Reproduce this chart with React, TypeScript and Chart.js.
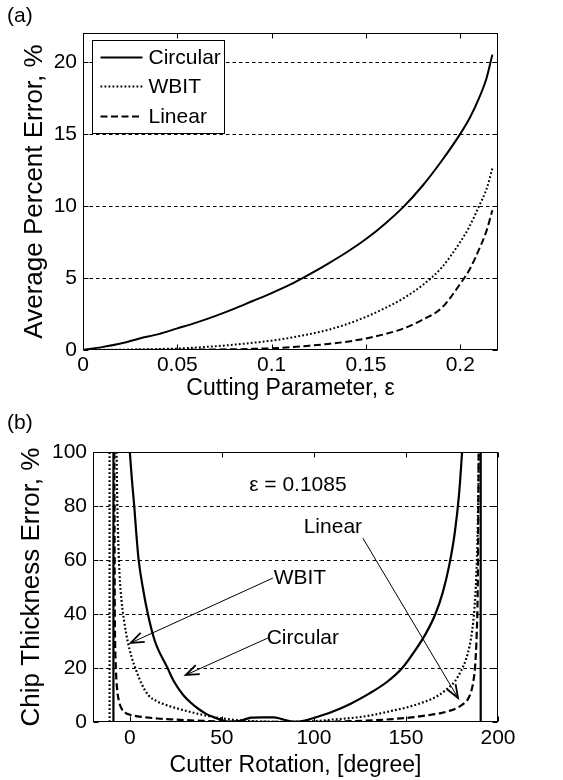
import React, { useEffect, useRef } from 'react';
import { Chart, registerables } from 'chart.js';

Chart.register(...registerables);

const FONT_FAMILY = '"Liberation Sans", Arial, Helvetica, sans-serif';

// ---------------- Panel (a): average percent error vs cutting parameter ----------------
const epsilonValues = [0, 0.01, 0.02, 0.03, 0.04, 0.05, 0.06, 0.07, 0.08, 0.09, 0.1, 0.11, 0.12, 0.13, 0.14, 0.15, 0.16, 0.17, 0.18, 0.19, 0.2, 0.205, 0.21, 0.214, 0.217];
const avgErrCircular = [0, 0.2, 0.45, 0.8, 1.1, 1.5, 1.9, 2.35, 2.85, 3.4, 3.95, 4.55, 5.25, 6.0, 6.8, 7.7, 8.75, 9.95, 11.4, 13.1, 15.0, 16.1, 17.5, 18.9, 20.5];
const avgErrWbit = [0, 0.01, 0.02, 0.04, 0.07, 0.1, 0.17, 0.26, 0.37, 0.5, 0.65, 0.85, 1.1, 1.4, 1.8, 2.3, 2.9, 3.6, 4.5, 5.7, 7.5, 8.6, 10.0, 11.2, 12.6];
const avgErrLinear = [0, 0, 0, 0.01, 0.01, 0.02, 0.03, 0.04, 0.05, 0.08, 0.12, 0.2, 0.3, 0.42, 0.58, 0.8, 1.1, 1.5, 2.1, 2.9, 4.6, 5.6, 7.0, 8.3, 9.7];
const epsilonTicks = [0, 0.05, 0.1, 0.15, 0.2];
const epsilonTickLabels = ['0', '0.05', '0.1', '0.15', '0.2'];
const avgErrTicks = [0, 5, 10, 15, 20];
const avgErrTickLabels = ['0', '5', '10', '15', '20'];
const avgErrGrid = [5, 10, 15, 20];

// ---------------- Panel (b): chip thickness error vs cutter rotation ----------------
const rotCircularX = [0, 1.1, 2.4, 3.5, 4.8, 7, 9.8, 13.6, 20.5, 24, 29, 33, 37, 41, 45.5, 50, 55, 59, 63, 66, 72, 78, 81, 85, 90, 95, 100, 110, 120, 130, 140, 148, 155, 161, 166, 170, 173.5, 176.5, 178.8, 180.5];
const chipErrCircular = [100, 90, 80, 70, 60, 50, 40, 30, 20, 15, 10, 7.2, 5, 3.2, 1.8, 0.7, 0.05, 0.3, 1.1, 1.6, 1.75, 1.7, 1.4, 0.6, 0.05, 0.5, 1.5, 3.8, 6.8, 10.5, 15, 20, 26.5, 33, 40, 48, 58, 70, 84, 100];
const rotWbitX = [-7.2, -6.9, -6.4, -5.6, -4.5, -3, -1.2, 1, 3.5, 6.5, 10, 15, 21, 28, 36, 45, 55, 65, 78, 90, 102, 112, 122, 132, 142, 151, 159, 166, 172, 176.5, 180, 182.5, 184.5, 186, 187.2, 188.2, 189, 189.6];
const chipErrWbit = [100, 85, 70, 55, 45, 37, 30, 24, 19, 14, 10, 7.6, 6, 4.6, 3.2, 1.9, 0.9, 0.4, 0.1, 0.1, 0.4, 1.0, 1.6, 2.6, 4.1, 5.5, 7.2, 9.2, 12, 15, 19, 23, 28, 34, 42, 54, 72, 100];
const rotLinearX = [-8.4, -8.3, -8.2, -8.0, -7.6, -7.0, -6.0, -4.5, -2.5, 0, 4, 9, 15, 22, 30, 40, 50, 60, 75, 90, 105, 120, 132, 143, 153, 162, 169, 174, 178, 181, 183.5, 185.3, 186.6, 187.6, 188.4, 189, 189.5];
const chipErrLinear = [100, 70, 45, 30, 20, 13, 8, 5, 3.5, 2.7, 2.1, 1.7, 1.3, 1.0, 0.7, 0.4, 0.2, 0.1, 0.05, 0.05, 0.1, 0.3, 0.6, 1.1, 1.7, 2.5, 3.3, 4.2, 5.3, 6.6, 8.3, 11, 15, 21, 32, 50, 100];
const circularAsymptotes = [-8.9, 190.6];
const wbitAsymptotes = [-11];
const asymptoteRange = [0, 100];
const rotationTicks = [0, 50, 100, 150, 200];
const rotationTickLabels = ['0', '50', '100', '150', '200'];
const chipErrTicks = [0, 20, 40, 60, 80, 100];
const chipErrTickLabels = ['0', '20', '40', '60', '80', '100'];
const chipErrGrid = [20, 40, 60, 80, 100];

// annotations of panel (b), in data units
const noteTexts = ['ε = 0.1085', 'Linear', 'WBIT', 'Circular'];
const noteTextX = [91.3, 110.3, 92.4, 94];
const noteTextY = [87.8, 72.2, 53.3, 31.1];
const arrowFromX = [77.7, 75, 126.6];
const arrowFromY = [53.3, 31.1, 68.1];
const arrowToX = [0.5, 30.4, 178.3];
const arrowToY = [29.3, 17.4, 8.9];

// ---------------- helpers ----------------
const pts = (xs: number[], ys: number[]) => xs.map((x, i) => ({ x, y: ys[i] }));
const verticals = (xs: number[]) => {
  const out: any[] = [];
  xs.forEach((x) => {
    out.push({ x, y: asymptoteRange[0] }, { x, y: asymptoteRange[1] }, { x, y: null });
  });
  return out;
};

const STYLE_SOLID = { borderDash: [] as number[] };
const STYLE_DOTTED = { borderDash: [1.8, 2.2] };
const STYLE_DASHED = { borderDash: [7, 3.5] };

function lineDataset(label: string, data: any[], style: any, width: number, smooth = true) {
  return {
    label,
    data,
    borderColor: '#000',
    backgroundColor: '#000',
    borderWidth: width,
    borderDash: style.borderDash,
    borderCapStyle: 'butt',
    pointRadius: 0,
    pointHoverRadius: 0,
    fill: false,
    spanGaps: false,
    tension: 0,
    cubicInterpolationMode: smooth ? 'monotone' : 'default',
  };
}

type DecorOpts = {
  grid: number[];
  xTicks: number[];
  yTicks: number[];
  panelLabel: string;
  panelLabelY: number;
  legend?: boolean;
  notes?: boolean;
};

function decorPlugin(o: DecorOpts) {
  return {
    id: 'decor',
    beforeDatasetsDraw(chart: any) {
      const { ctx, chartArea: a, scales } = chart;
      const y = scales.y;
      ctx.save();
      ctx.strokeStyle = '#000';
      ctx.lineWidth = 1;
      ctx.setLineDash([3.5, 3]);
      o.grid.forEach((v) => {
        const py = Math.round(y.getPixelForValue(v)) + 0.5;
        ctx.beginPath();
        ctx.moveTo(a.left, py);
        ctx.lineTo(a.right, py);
        ctx.stroke();
      });
      ctx.restore();
    },
    afterDatasetsDraw(chart: any) {
      const { ctx, chartArea: a, scales } = chart;
      const x = scales.x;
      const y = scales.y;
      ctx.save();
      ctx.setLineDash([]);
      ctx.strokeStyle = '#000';
      ctx.lineWidth = 1;
      const L = Math.round(a.left) + 0.5;
      const R = Math.round(a.right) - 0.5;
      const T = Math.round(a.top) + 0.5;
      const B = Math.round(a.bottom) - 0.5;
      ctx.strokeRect(L, T, R - L, B - T);
      const tl = 5;
      o.xTicks.forEach((v) => {
        const px = Math.round(x.getPixelForValue(v)) + 0.5;
        ctx.beginPath();
        ctx.moveTo(px, B);
        ctx.lineTo(px, B - tl);
        ctx.moveTo(px, T);
        ctx.lineTo(px, T + tl);
        ctx.stroke();
      });
      o.yTicks.forEach((v) => {
        const py = Math.round(y.getPixelForValue(v)) + 0.5;
        ctx.beginPath();
        ctx.moveTo(L, py);
        ctx.lineTo(L + tl, py);
        ctx.moveTo(R, py);
        ctx.lineTo(R - tl, py);
        ctx.stroke();
      });

      ctx.fillStyle = '#000';
      ctx.font = `21px ${FONT_FAMILY}`;
      ctx.textBaseline = 'middle';
      ctx.textAlign = 'left';
      ctx.fillText(o.panelLabel, 7, o.panelLabelY);

      if (o.legend) {
        const bx = Math.round(a.left) + 9.5;
        const by = Math.round(a.top) + 7.5;
        const bw = 132;
        const bh = 93;
        ctx.fillStyle = '#fff';
        ctx.fillRect(bx, by, bw, bh);
        ctx.strokeStyle = '#000';
        ctx.lineWidth = 1;
        ctx.strokeRect(bx, by, bw, bh);
        const rows = [17, 46, 76];
        chart.data.datasets.forEach((ds: any, i: number) => {
          const ry = by + rows[i];
          ctx.save();
          ctx.lineWidth = ds.borderWidth;
          ctx.setLineDash(ds.borderDash || []);
          ctx.beginPath();
          ctx.moveTo(bx + 8, ry);
          ctx.lineTo(bx + 50, ry);
          ctx.stroke();
          ctx.restore();
          ctx.fillStyle = '#000';
          ctx.font = `21px ${FONT_FAMILY}`;
          ctx.textAlign = 'left';
          ctx.textBaseline = 'middle';
          ctx.fillText(ds.label, bx + 56, ry + 1);
        });
      }

      if (o.notes) {
        ctx.fillStyle = '#000';
        ctx.font = `21px ${FONT_FAMILY}`;
        ctx.textAlign = 'center';
        ctx.textBaseline = 'middle';
        noteTexts.forEach((t, i) => {
          ctx.fillText(t, x.getPixelForValue(noteTextX[i]), y.getPixelForValue(noteTextY[i]));
        });
        ctx.lineWidth = 1;
        arrowFromX.forEach((_, i) => {
          const x0 = x.getPixelForValue(arrowFromX[i]);
          const y0 = y.getPixelForValue(arrowFromY[i]);
          const x1 = x.getPixelForValue(arrowToX[i]);
          const y1 = y.getPixelForValue(arrowToY[i]);
          ctx.beginPath();
          ctx.moveTo(x0, y0);
          ctx.lineTo(x1, y1);
          ctx.stroke();
          const ang = Math.atan2(y1 - y0, x1 - x0);
          const hl = 14;
          const ha = 0.36;
          ctx.save();
          ctx.lineWidth = 1.8;
          ctx.beginPath();
          ctx.moveTo(x1 - hl * Math.cos(ang - ha), y1 - hl * Math.sin(ang - ha));
          ctx.lineTo(x1, y1);
          ctx.lineTo(x1 - hl * Math.cos(ang + ha), y1 - hl * Math.sin(ang + ha));
          ctx.stroke();
          ctx.restore();
        });
      }
      ctx.restore();
    },
  };
}

type AxisOpts = {
  min: number;
  max: number;
  ticks: number[];
  labels: string[];
  title: string;
  titleSize: number;
  size: number;
  tickPadding: number;
  titlePad: any;
};

function axis(o: AxisOpts, horizontal: boolean) {
  return {
    type: 'linear',
    min: o.min,
    max: o.max,
    afterBuildTicks: (scale: any) => {
      scale.ticks = o.ticks.map((v) => ({ value: v }));
    },
    afterFit: (scale: any) => {
      if (horizontal) scale.height = o.size;
      else scale.width = o.size;
    },
    grid: { display: false, drawTicks: false },
    border: { display: false },
    ticks: {
      autoSkip: false,
      maxRotation: 0,
      minRotation: 0,
      padding: o.tickPadding,
      color: '#000',
      font: { family: FONT_FAMILY, size: 21 },
      callback: (_v: any, i: number) => o.labels[i],
    },
    title: {
      display: true,
      text: o.title,
      color: '#000',
      font: { family: FONT_FAMILY, size: o.titleSize },
      padding: o.titlePad,
    },
  };
}

function buildConfigA() {
  return {
    type: 'line',
    data: {
      datasets: [
        lineDataset('Circular', pts(epsilonValues, avgErrCircular), STYLE_SOLID, 2),
        lineDataset('WBIT', pts(epsilonValues, avgErrWbit), STYLE_DOTTED, 2),
        lineDataset('Linear', pts(epsilonValues, avgErrLinear), STYLE_DASHED, 2),
      ],
    },
    options: {
      animation: false,
      responsive: false,
      maintainAspectRatio: false,
      events: [],
      layout: { padding: { top: 33, right: 65, left: 0, bottom: 0 } },
      plugins: { legend: { display: false }, tooltip: { enabled: false } },
      scales: {
        x: axis({ min: 0, max: 0.22, ticks: epsilonTicks, labels: epsilonTickLabels, title: 'Cutting Parameter, ε', titleSize: 23, size: 55, tickPadding: 3, titlePad: { top: 0, bottom: 3 } }, true),
        y: axis({ min: 0, max: 22, ticks: avgErrTicks, labels: avgErrTickLabels, title: 'Average Percent Error, %', titleSize: 26, size: 83, tickPadding: 6, titlePad: { top: 19, bottom: 0 } }, false),
      },
    },
    plugins: [decorPlugin({ grid: avgErrGrid, xTicks: epsilonTicks, yTicks: avgErrTicks, panelLabel: '(a)', panelLabelY: 16, legend: true })],
  };
}

function buildConfigB() {
  return {
    type: 'line',
    data: {
      datasets: [
        lineDataset('Circular', pts(rotCircularX, chipErrCircular), STYLE_SOLID, 2.2),
        lineDataset('WBIT', pts(rotWbitX, chipErrWbit), STYLE_DOTTED, 2.2),
        lineDataset('Linear', pts(rotLinearX, chipErrLinear), STYLE_DASHED, 2.2),
        lineDataset('Circular limit', verticals(circularAsymptotes), STYLE_SOLID, 2.2, false),
        lineDataset('WBIT limit', verticals(wbitAsymptotes), STYLE_DOTTED, 2.2, false),
      ],
    },
    options: {
      animation: false,
      responsive: false,
      maintainAspectRatio: false,
      events: [],
      layout: { padding: { top: 47, right: 65, left: 0, bottom: 0 } },
      plugins: { legend: { display: false }, tooltip: { enabled: false } },
      scales: {
        x: axis({ min: -20, max: 200, ticks: rotationTicks, labels: rotationTickLabels, title: 'Cutter Rotation, [degree]', titleSize: 23, size: 58, tickPadding: 4, titlePad: { top: 0, bottom: 1 } }, true),
        y: axis({ min: 0, max: 100, ticks: chipErrTicks, labels: chipErrTickLabels, title: 'Chip Thickness Error, %', titleSize: 26, size: 93, tickPadding: 6, titlePad: { top: 16, bottom: 0 } }, false),
      },
    },
    plugins: [decorPlugin({ grid: chipErrGrid, xTicks: rotationTicks, yTicks: chipErrTicks, panelLabel: '(b)', panelLabelY: 18.5, notes: true })],
  };
}

function Panel({ build, top, height }: { build: () => any; top: number; height: number }) {
  const ref = useRef<HTMLCanvasElement>(null);
  useEffect(() => {
    const chart = new Chart(ref.current as HTMLCanvasElement, build() as any);
    return () => chart.destroy();
  }, [build]);
  return (
    <canvas
      ref={ref}
      width={563}
      height={height}
      style={{ position: 'absolute', left: 0, top, width: 563, height, display: 'block' }}
    />
  );
}

export default function App() {
  return (
    <div style={{ position: 'absolute', left: 0, top: 0, width: 563, height: 780, background: '#fff' }}>
      <Panel build={buildConfigA} top={0} height={405} />
      <Panel build={buildConfigB} top={405} height={375} />
    </div>
  );
}
